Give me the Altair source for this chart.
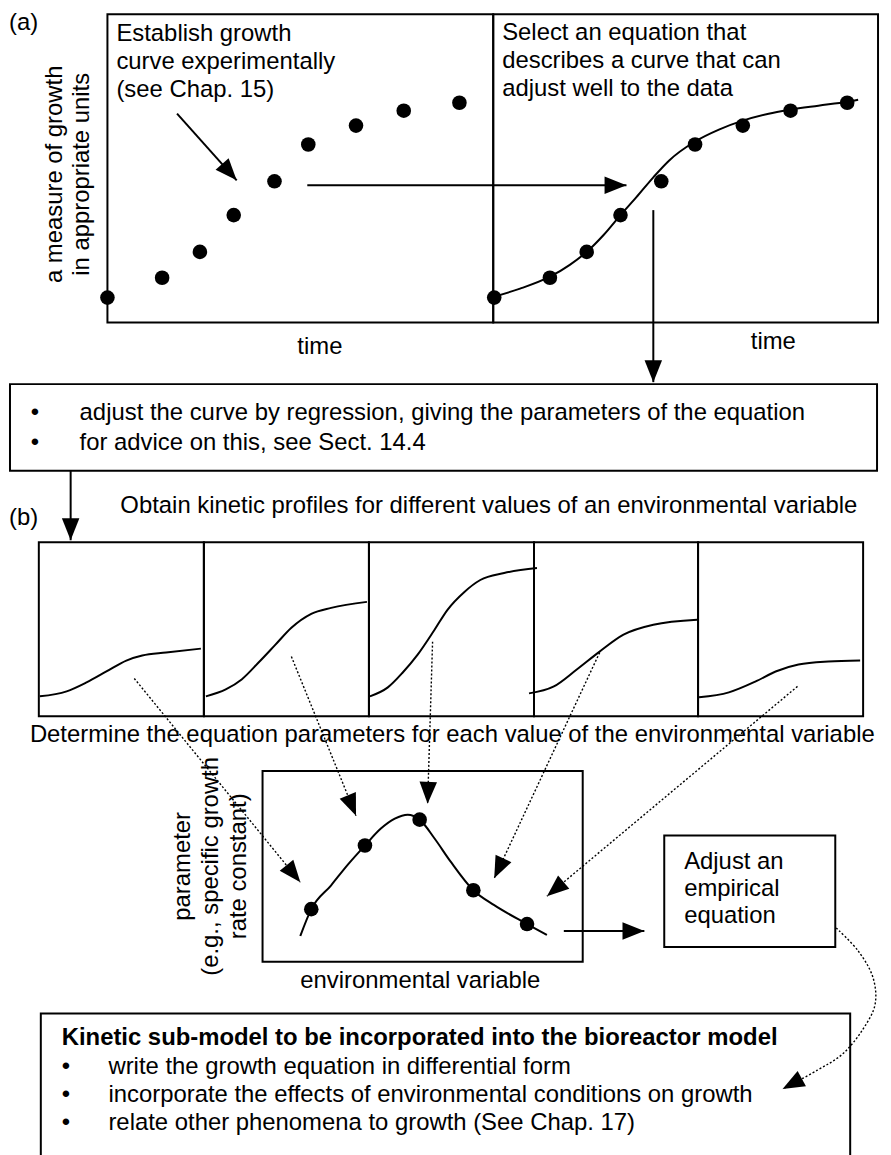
import math
import altair as alt
import pandas as pd

# ---------------- data (diagram coordinates) ----------------
box_x0 = [108, 496, 10, 39, 205, 371, 537, 702, 264, 668, 41]
box_x1 = [496, 883, 882, 205, 371, 537, 702, 868, 586, 840, 855]
box_y0 = [11, 11, 383, 542, 542, 542, 542, 542, 772, 837, 1016]
box_y1 = [321, 321, 470, 717, 717, 717, 717, 717, 964, 949, 1175]

dot_x = [108, 163, 201, 235, 276, 310, 358, 406, 462,
         497, 553, 590, 624, 665, 699, 747, 795, 852,
         313, 367, 422, 476, 530]
dot_y = [296, 276, 250, 213, 179, 142, 123, 108, 100,
         296, 276, 250, 213, 179, 142, 123, 108, 100,
         911, 847, 821, 892, 926]

fit_x = [497, 523, 553, 573, 590, 607, 624, 640, 657, 673, 699, 723, 747, 773, 795, 823, 852, 863]
fit_y = [295, 287, 275, 263, 250, 233, 213, 195, 175, 158, 139, 127, 118, 111, 107, 103, 99, 97]

p1_x = [40, 67, 87, 107, 127, 143, 167, 202]
p1_y = [697, 692, 683, 672, 661, 656, 653, 649]
p2_x = [207, 227, 243, 260, 277, 293, 313, 333, 369]
p2_y = [697, 690, 680, 663, 645, 628, 614, 608, 602]
p3_x = [372, 390, 405, 420, 437, 450, 467, 483, 507, 540]
p3_y = [697, 688, 673, 655, 630, 610, 592, 580, 573, 568]
p4_x = [532, 557, 580, 603, 627, 657, 701]
p4_y = [694, 687, 670, 652, 635, 625, 620]
p5_x = [703, 733, 760, 780, 803, 833, 865]
p5_y = [698, 693, 682, 672, 665, 662, 661]

mid_x = [302, 313, 333, 350, 367, 383, 397, 410, 422, 437, 453, 476, 497, 530, 550]
mid_y = [938, 911, 887, 866, 847, 830, 820, 816, 821, 840, 863, 892, 907, 926, 937]

arrows_solid = {
    "A1": ([178, 238], [111, 178]),
    "A2": ([309, 630], [183, 183]),
    "A3": ([657, 657], [208, 381]),
    "A4": ([71, 71], [470, 540]),
    "A5": ([567, 648], [933, 933]),
}
arrows_dotted = {
    "D1": ([135, 302], [679, 884]),
    "D2": ([293, 358], [657, 817]),
    "D3": ([435, 430], [642, 805]),
    "D4": ([603, 497], [653, 880]),
    "D5": ([802, 550], [687, 898]),
    "D6": ([841, 863, 878, 880, 867, 847, 822, 787],
           [930, 953, 980, 1007, 1033, 1057, 1073, 1092]),
}

txt = ["(a)", "Establish growth", "curve experimentally", "(see Chap. 15)",
       "Select an equation that", "describes a curve that can", "adjust well to the data",
       "time", "time",
       "\u2022", "adjust the curve by regression, giving the parameters of the equation",
       "\u2022", "for advice on this, see Sect. 14.4",
       "(b)", "Obtain kinetic profiles for different values of an environmental variable",
       "Determine the equation parameters for each value of the environmental variable",
       "environmental variable",
       "Adjust an", "empirical", "equation",
       "\u2022", "write the growth equation in differential form",
       "\u2022", "incorporate the effects of environmental conditions on growth",
       "\u2022", "relate other phenomena to growth (See Chap. 17)"]
txt_x = [9, 117, 117, 117,
         505, 505, 505,
         299, 755,
         31, 80, 31, 80,
         9, 121, 30, 302,
         688, 688, 688,
         62, 109, 62, 109, 62, 109]
txt_y = [27, 38, 66, 94,
         37, 65, 93,
         353, 348,
         419, 419, 449, 449,
         525, 513, 743, 990,
         871, 898, 925,
         1077, 1077, 1105, 1105, 1133, 1133]

bold_txt = ["Kinetic sub-model to be incorporated into the bioreactor model"]
bold_x = [62]
bold_y = [1048]

rot_txt = ["a measure of growth", "in appropriate units",
           "parameter", "(e.g., specific growth", "rate constant)"]
rot_x = [55, 82, 184, 212, 240]
rot_y = [172, 172, 868, 868, 868]

# ---------------- frames ----------------
boxes = pd.DataFrame({"x0": box_x0, "x1": box_x1, "y0": box_y0, "y1": box_y1})
dots = pd.DataFrame({"x": dot_x, "y": dot_y})


def curve_rows(name, xs_, ys_):
    return [{"id": name, "i": k, "x": a, "y": b} for k, (a, b) in enumerate(zip(xs_, ys_))]


curve_list = []
for nm, (cx, cy) in {"fit": (fit_x, fit_y), "p1": (p1_x, p1_y), "p2": (p2_x, p2_y),
                     "p3": (p3_x, p3_y), "p4": (p4_x, p4_y), "p5": (p5_x, p5_y),
                     "mid": (mid_x, mid_y)}.items():
    curve_list += curve_rows(nm, cx, cy)
curves = pd.DataFrame(curve_list)

solid_list, dotted_list, heads = [], [], []
for nm, (ax, ay) in arrows_solid.items():
    solid_list += curve_rows(nm, ax, ay)
for nm, (ax, ay) in arrows_dotted.items():
    dotted_list += curve_rows(nm, ax, ay)
for nm, (ax, ay) in list(arrows_solid.items()) + list(arrows_dotted.items()):
    ang = math.degrees(math.atan2(ay[-1] - ay[-2], ax[-1] - ax[-2])) % 360
    heads.append({"x": ax[-1], "y": ay[-1], "a": ang})
solid = pd.DataFrame(solid_list)
dotted = pd.DataFrame(dotted_list)
heads = pd.DataFrame(heads)

texts = pd.DataFrame({"t": txt, "x": txt_x, "y": txt_y})
btexts = pd.DataFrame({"t": bold_txt, "x": bold_x, "y": bold_y})
rtexts = pd.DataFrame({"t": rot_txt, "x": rot_x, "y": rot_y})

# ---------------- scales ----------------
W, H = 880, 1147
xs = alt.Scale(domain=[8, 8 + W], nice=False, zero=False)
ys = alt.Scale(domain=[8, 8 + H], nice=False, zero=False, reverse=True)


def X(f="x"):
    return alt.X(f"{f}:Q", scale=xs, axis=None)


def Y(f="y"):
    return alt.Y(f"{f}:Q", scale=ys, axis=None)


FONT = "Liberation Sans"
FS = 24

rects = alt.Chart(boxes).mark_rect(fillOpacity=0, stroke="black", strokeWidth=2).encode(
    x=X("x0"), x2=alt.X2("x1"), y=Y("y0"), y2=alt.Y2("y1"))

curve_layer = alt.Chart(curves).mark_line(color="black", strokeWidth=2, interpolate="monotone").encode(
    x=X(), y=Y(), detail="id:N", order="i:Q")

solid_layer = alt.Chart(solid).mark_line(color="black", strokeWidth=2).encode(
    x=X(), y=Y(), detail="id:N", order="i:Q")

dotted_layer = alt.Chart(dotted).mark_line(color="black", strokeWidth=1.4, strokeDash=[2, 2],
                                           interpolate="catmull-rom").encode(
    x=X(), y=Y(), detail="id:N", order="i:Q")

dot_layer = alt.Chart(dots).mark_circle(color="black", opacity=1, size=215).encode(x=X(), y=Y())

head_layer = alt.Chart(heads).mark_point(shape="M0,0L-2,-0.8L-2,0.8Z", filled=True, color="black",
                                         opacity=1, size=484).encode(
    x=X(), y=Y(), angle=alt.Angle("a:Q", scale=None))

text_layer = alt.Chart(texts).mark_text(font=FONT, fontSize=FS, align="left", baseline="alphabetic",
                                        color="black").encode(x=X(), y=Y(), text="t:N")

bold_layer = alt.Chart(btexts).mark_text(font=FONT, fontSize=FS, fontWeight="bold", align="left",
                                         baseline="alphabetic", color="black").encode(
    x=X(), y=Y(), text="t:N")

rot_layer = alt.Chart(rtexts).mark_text(font=FONT, fontSize=FS, angle=270, align="center",
                                        baseline="middle", color="black").encode(
    x=X(), y=Y(), text="t:N")

chart = alt.layer(rects, curve_layer, solid_layer, dotted_layer, dot_layer, head_layer,
                  text_layer, bold_layer, rot_layer).properties(
    width=W, height=H, padding=0, background="white",
    autosize=alt.AutoSizeParams(type="none")
).configure_view(stroke=None)

chart.save("out.html", embed_options={"renderer": "svg", "actions": False})
